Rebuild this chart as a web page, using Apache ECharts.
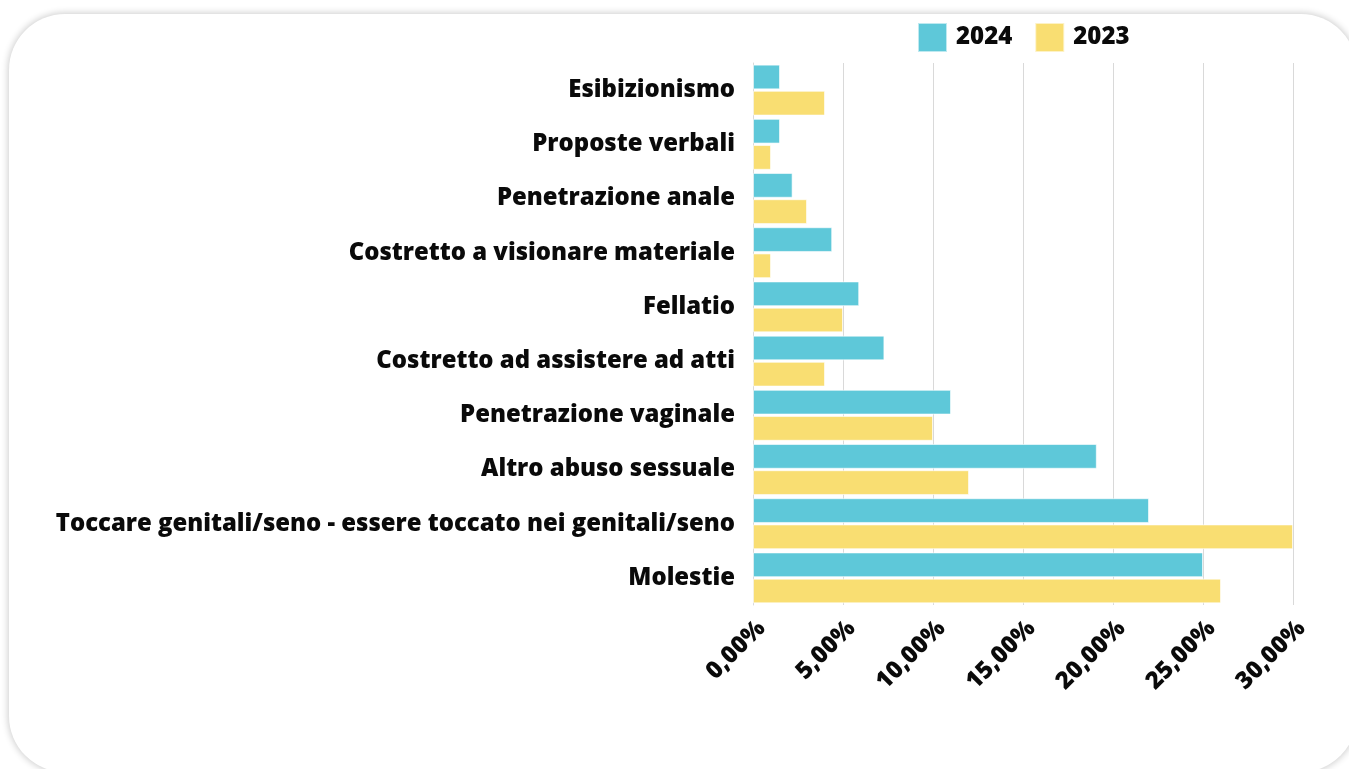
<!DOCTYPE html>
<html>
<head>
<meta charset="utf-8">
<script src="https://cdn.jsdelivr.net/npm/echarts@6/dist/echarts.min.js"></script>
<style>
  html, body { margin: 0; padding: 0; background: #ffffff; overflow: hidden; }
  body { width: 1349px; height: 769px; position: relative; }
  #card {
    position: absolute; left: 9px; top: 14px; width: 1348px; height: 758px;
    background: #ffffff; border-radius: 56px;
    box-shadow: 0 0 7px 1px rgba(0, 0, 0, 0.2);
  }
  #chart { position: absolute; left: 0; top: 0; width: 1349px; height: 769px; }
</style>
</head>
<body>
<div id="card"></div>
<div id="chart"></div>
<script>
// Tipologie di abuso, percentuali per anno
const categories = [
  'Esibizionismo',
  'Proposte verbali',
  'Penetrazione anale',
  'Costretto a visionare materiale',
  'Fellatio',
  'Costretto ad assistere ad atti',
  'Penetrazione vaginale',
  'Altro abuso sessuale',
  'Toccare genitali/seno - essere toccato nei genitali/seno',
  'Molestie'
];
const values2024 = [1.5, 1.5, 2.2, 4.4, 5.9, 7.3, 11, 19.1, 22, 25];
const values2023 = [4, 1, 3, 1, 5, 4, 10, 12, 30, 26];
const seriesNames = ['2024', '2023'];
const colors = ['#5ec8d9', '#f9de72'];

const FONT = '"Open Sans", "Noto Sans", sans-serif';

const chart = echarts.init(document.getElementById('chart'), null, { renderer: 'canvas' });

chart.setOption({
  animation: false,
  backgroundColor: 'transparent',
  color: colors,
  legend: {
    data: seriesNames,
    left: 917,
    top: 22,
    padding: 0,
    icon: 'rect',
    itemWidth: 29,
    itemHeight: 29,
    itemGap: 22,
    textStyle: {
      fontFamily: FONT, fontWeight: 800, fontSize: 24, color: '#0a0a0a',
      padding: [0, 0, 0, 4]
    }
  },
  grid: { left: 753, right: 56, top: 63, bottom: 164, containLabel: false },
  xAxis: {
    type: 'value',
    min: 0,
    max: 30,
    interval: 5,
    axisLine: { show: false },
    axisTick: { show: false },
    splitLine: { show: true, lineStyle: { color: '#d9d9d9', width: 1 } },
    axisLabel: {
      rotate: 45,
      margin: 11,
      align: 'right',
      verticalAlign: 'top',
      fontFamily: FONT,
      fontWeight: 800,
      fontSize: 24,
      color: '#0a0a0a',
      formatter: v => v.toFixed(2).replace('.', ',') + '%'
    }
  },
  yAxis: {
    type: 'category',
    data: categories,
    inverse: true,
    axisLine: { show: true, lineStyle: { color: '#d9d9d9', width: 1 } },
    axisTick: { show: false },
    axisLabel: {
      margin: 18,
      fontFamily: FONT,
      fontWeight: 800,
      fontSize: 23.9,
      color: '#0a0a0a'
    }
  },
  series: [
    {
      name: seriesNames[0],
      type: 'bar',
      data: values2024,
      barGap: '6%',
      barCategoryGap: '6%',
      itemStyle: { color: colors[0], borderColor: 'rgba(255,255,255,0.6)', borderWidth: 1 }
    },
    {
      name: seriesNames[1],
      type: 'bar',
      data: values2023,
      barGap: '6%',
      barCategoryGap: '6%',
      itemStyle: { color: colors[1], borderColor: 'rgba(255,255,255,0.6)', borderWidth: 1 }
    }
  ]
});
</script>
</body>
</html>
